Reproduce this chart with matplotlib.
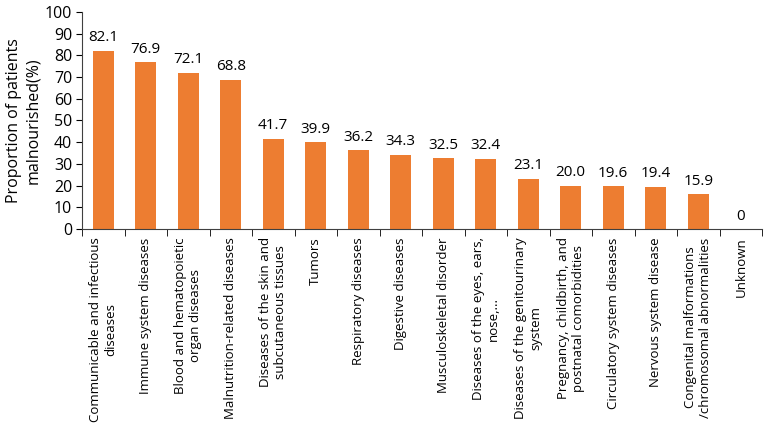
import matplotlib.pyplot as plt
import numpy as np

categories = [
    "Communicable and infectious\ndiseases",
    "Immune system diseases",
    "Blood and hematopoietic\norgan diseases",
    "Malnutrition-related diseases",
    "Diseases of the skin and\nsubcutaneous tissues",
    "Tumors",
    "Respiratory diseases",
    "Digestive diseases",
    "Musculoskeletal disorder",
    "Diseases of the eyes, ears,\nnose,...",
    "Diseases of the genitourinary\nsystem",
    "Pregnancy, childbirth, and\npostnatal comorbidities",
    "Circulatory system diseases",
    "Nervous system disease",
    "Congenital malformations\n/chromosomal abnormalities",
    "Unknown",
]
values = [82.1, 76.9, 72.1, 68.8, 41.7, 39.9, 36.2, 34.3, 32.5, 32.4, 23.1, 20.0, 19.6, 19.4, 15.9, 0]
value_labels = ["82.1", "76.9", "72.1", "68.8", "41.7", "39.9", "36.2", "34.3",
                "32.5", "32.4", "23.1", "20.0", "19.6", "19.4", "15.9", "0"]

plt.rcParams["font.family"] = ["Open Sans", "DejaVu Sans"]

fig = plt.figure(figsize=(7.67, 4.41), dpi=100)
ax = fig.add_axes([82 / 767, 1 - 229 / 441, 680 / 767, 217 / 441])

x = np.arange(len(categories))
ax.bar(x, values, width=0.5, color="#ED7D31")

for xi, v, lab in zip(x, values, value_labels):
    ax.text(xi, v + 2.5, lab, ha="center", va="bottom", fontsize=11)

ax.set_xlim(-0.5, len(categories) - 0.5)
ax.set_ylim(0, 100)
ax.set_yticks(np.arange(0, 101, 10))
ax.tick_params(axis="y", labelsize=11.5, length=4, direction="out", pad=3)

ax.set_xticks(x)
ax.set_xticklabels(categories, rotation=90, ha="center", va="top",
                   multialignment="center", fontsize=9.5)
ax.tick_params(axis="x", length=0, pad=6)
ax.set_xticks(np.arange(-0.5, len(categories)), minor=True)
ax.tick_params(axis="x", which="minor", length=5, direction="out")

ax.spines["top"].set_visible(False)
ax.spines["right"].set_visible(False)
for s in ["left", "bottom"]:
    ax.spines[s].set_color("#404040")

ax.set_ylabel("Proportion of patients\nmalnourished(%)", fontsize=11.5, labelpad=3)

fig.savefig("out.png", dpi=100)
